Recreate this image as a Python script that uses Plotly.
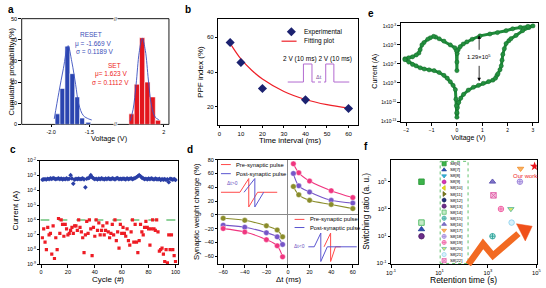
import plotly.graph_objects as go

W, H = 546, 288
FONT = "Liberation Sans, Arial, Helvetica, sans-serif"


def PX(x):
    return x / W


def PY(y):
    return 1 - y / H


# ---------------- Panel a : RESET / SET voltage histograms ----------------
reset_voltage = [-1.917, -1.853, -1.788, -1.724, -1.660, -1.596, -1.515]
reset_count = [5, 17, 37, 24, 13, 3, 1]
reset_bin = 0.064
reset_fit_v = [-1.96, -1.90, -1.84, -1.78, -1.73, -1.68, -1.64, -1.58, -1.51, -1.47]
reset_fit_p = [2.6, 15, 26.5, 37.3, 29.6, 18.8, 9.6, 4.2, 2.6, 2.1]
set_voltage = [1.476, 1.562, 1.648, 1.734, 1.820, 1.906]
set_count = [5, 19, 41, 20, 13, 2]
set_bin = 0.086
set_fit_v = [1.45, 1.50, 1.55, 1.60, 1.65, 1.70, 1.75, 1.80, 1.86, 1.92]
set_fit_p = [1.5, 7, 19, 34, 40.7, 35, 21, 9, 3.5, 2.2]

# ---------------- Panel b : PPF index ----------------
ppf_interval = [5, 10, 20, 40, 60]
ppf_index = [57, 45.5, 30.5, 24, 19]
ppf_fit_t = [5, 10, 15, 20, 30, 40, 50, 60]
ppf_fit_v = [56.5, 47.5, 41, 36, 28.8, 24.2, 21.2, 19.2]

# ---------------- Panel c : endurance ----------------
cycles = list(range(1, 101))
lrs_exp = [
    -3.28, -3.26, -3.25, -3.27, -3.22, -3.24, -3.20, -3.23, -3.18, -3.21,
    -3.25, -3.22, -3.20, -3.24, -3.21, -3.26, -3.23, -3.25, -3.20, -3.24,
    -3.22, -2.98, -3.20, -3.55, -3.28, -3.22, -3.25, -3.21, -3.24, -3.23,
    -3.20, -3.26, -3.80, -3.22, -3.18, -3.15, -2.98, -3.12, -3.20, -3.24,
    -3.22, -3.27, -3.21, -3.25, -3.19, -3.23, -3.26, -3.21, -3.24, -3.20,
    -3.23, -3.25, -3.19, -3.22, -3.26, -3.20, -3.18, -3.24, -3.22, -3.25,
    -3.21, -3.23, -3.26, -3.20, -3.24, -3.22, -3.19, -3.25, -3.21, -3.17,
    -3.12, -3.05, -2.98, -3.05, -3.15, -3.20, -3.24, -3.22, -3.26, -3.21,
    -3.25, -3.20, -3.23, -3.27, -3.21, -3.24, -3.26, -3.22, -3.30, -3.25,
    -3.28, -3.24, -3.30, -3.26, -3.45, -3.22, -3.25, -3.28, -3.24, -3.30]
hrs_exp = [
    -7.2, -6.6, -7.5, -8.0, -6.5, -7.0, -6.9, -8.3, -6.4, -8.6,
    -7.2, -8.0, -5.9, -6.9, -6.0, -6.3, -7.1, -6.3, -6.6, -7.0,
    -6.9, -6.7, -6.5, -6.9, -6.4, -6.4, -6.7, -6.0, -6.5, -6.8,
    -7.2, -8.2, -7.0, -6.1, -6.9, -6.0, -6.6, -8.4, -6.5, -7.1,
    -6.0, -6.7, -6.2, -7.0, -6.7, -6.4, -7.0, -6.7, -6.2, -6.8,
    -7.2, -6.9, -6.3, -7.0, -6.0, -7.4, -6.8, -7.9, -6.3, -6.9,
    -6.5, -6.9, -7.1, -6.6, -7.4, -7.7, -6.8, -6.0, -7.5, -6.3,
    -7.5, -8.2, -7.4, -6.3, -6.8, -7.0, -6.5, -6.1, -6.5, -6.6,
    -7.7, -6.6, -6.0, -6.6, -6.7, -6.0, -6.8, -8.1, -8.0, -7.9,
    -8.3, -8.8, -8.0, -8.9, -7.0, -8.0, -7.0, -8.0, -8.4, -8.8]
read_threshold = 1e-6
lrs_current = [10 ** e for e in lrs_exp]
hrs_current = [10 ** e for e in hrs_exp]

# ---------------- Panel d : STDP ----------------
dt_pos = [5, 10, 20, 40, 60]
pos_pink = [74, 61, 49, 35, 25]
pos_purple = [60, 42, 33, 21, 17]
pos_olive = [41, 29, 21, 15, 9]
dt_neg = [-60, -40, -20, -10, -5]
neg_olive = [-5, -8, -16, -22, -32]
neg_purple = [-15, -18, -26, -32, -43]
neg_pink = [-20, -25, -36, -45, -61]

# ---------------- Panel e : I-V loop ----------------
e_voltage = [0.0, 0.02, 0.07, 0.15, 0.26, 0.45, 0.65, 0.85, 1.04, 1.25, 1.42, 1.52, 1.58,
             1.62, 1.70, 1.75, 1.78, 1.81, 1.87, 1.94, 2.05, 2.13, 2.33, 2.59, 2.84, 3.0,
             2.8, 2.5, 2.2, 1.94, 1.6, 1.3, 0.91, 0.6, 0.39, 0.25, 0.13, 0.05, 0.01, 0.0, 0.0,
             -0.02, -0.08, -0.26, -0.51, -0.7, -0.84, -0.92, -1.05, -1.15, -1.3, -1.38, -1.45,
             -1.5, -1.6, -1.75, -1.9, -2.05,
             -2.05, -1.9, -1.75, -1.61, -1.45, -1.29, -1.1, -0.9, -0.7, -0.51, -0.38, -0.26,
             -0.15, -0.06, -0.04, -0.02, 0.0, 0.0]
e_log_current = [-12.2, -11.6, -11.05, -10.6, -10.2, -9.75, -9.45, -9.25, -9.04, -8.85, -8.7, -8.5, -8.2,
                 -8.03, -7.6, -7.2, -6.6, -6.0, -5.4, -4.85, -4.55, -4.34, -4.0, -3.5, -3.17, -3.0,
                 -3.05, -3.15, -3.3, -3.5, -3.7, -3.85, -4.05, -4.4, -4.68, -4.9, -5.18, -5.5, -5.9, -6.8, -7.7,
                 -5.6, -5.3, -5.0, -4.6, -4.35, -4.17, -4.1, -4.25, -4.4, -4.75, -5.0, -5.5,
                 -5.85, -6.05, -6.25, -6.35, -6.45,
                 -6.55, -6.8, -7.05, -7.2, -7.4, -7.53, -7.62, -7.7, -7.9, -8.2, -8.5, -8.87,
                 -9.25, -9.7, -10.7, -11.4, -12.1, -12.6]
e_current = [10 ** e for e in e_log_current]

# ---------------- Panel f : benchmark ----------------
f_names = ["S8[6]", "S8[7]", "S8[8]", "S8[9]", "S8[10]", "S8[11]", "S8[12]", "S8[13]", "S8[14]",
           "S8[15]", "S8[16]", "S8[17]", "S8[18]", "S8[19]", "S8[20]", "S8[21]", "S8[22]"]
f_symbols = ["square", "triangle-up", "triangle-down", "hexagon", "triangle-left", "triangle-right",
             "hexagon", "circle", "square", "circle-cross", "triangle-up", "triangle-down-dot",
             "circle-cross", "circle-cross", "triangle-down", "circle", "square-x"]
f_fill = ["#3cb44a", "#2d4fb5", "#33b8dc", "#d633b5", "#ece21e", "#7f7f1e", "#1f2f7a", "#6b2d8a",
          "#c5ebc8", "#b8e6e2", "#8075c8", "#fbc37a", "#e2d8f6", "#fbd0e4", "#d8e86a", "#d8f1fa", "#f6c2e0"]
f_edge = ["#2f9a3c", "#243f95", "#2290b8", "#b0208f", "#c8be10", "#5f5f10", "#121d55", "#4f1d68",
          "#4cb860", "#2ea39a", "#5a4fb0", "#f08c2a", "#9b82d8", "#ef5ba0", "#5ab8a0", "#8fd3ee", "#e060a8"]
f_retention = [1.8, 1.8, None, None, None, None, None, 1.8, 1.8, 1550, 1550, 22400, 21000,
               3470, 8900, 9550, 1700]
f_ratio = [1e5, 32, None, None, None, None, None, 10, 100, 10, 1e5, 9.1e5, 1e5, 1e3, 1e3, 100, 1e4]
our_retention = [85000]
our_ratio = [1.35e6]

fig = go.Figure()

# ---- panel a traces
fig.add_trace(go.Bar(x=reset_voltage, y=reset_count, width=reset_bin,
                     marker=dict(color="#2b45b0", line=dict(color="white", width=0.6)),
                     xaxis="x", yaxis="y"))
fig.add_trace(go.Scatter(x=reset_fit_v, y=reset_fit_p, mode="lines",
                         line=dict(color="#3a50c0", width=0.9, shape="spline"), xaxis="x", yaxis="y"))
fig.add_trace(go.Bar(x=set_voltage, y=set_count, width=set_bin,
                     marker=dict(color="#e3161e", line=dict(color="white", width=0.6)),
                     xaxis="x2", yaxis="y"))
fig.add_trace(go.Scatter(x=set_fit_v, y=set_fit_p, mode="lines",
                         line=dict(color="#3a50c0", width=0.9, shape="spline"), xaxis="x2", yaxis="y"))

# ---- panel b traces
fig.add_trace(go.Scatter(x=ppf_fit_t, y=ppf_fit_v, mode="lines",
                         line=dict(color="#ee2028", width=1.2, shape="spline"), xaxis="x3", yaxis="y3"))
fig.add_trace(go.Scatter(x=ppf_interval, y=ppf_index, mode="markers",
                         marker=dict(symbol="diamond", size=7, color="#1c2270"), xaxis="x3", yaxis="y3"))

# ---- panel c traces
fig.add_trace(go.Scatter(x=[-0.5, 101.7], y=[read_threshold, read_threshold], mode="lines",
                         line=dict(color="#21a336", width=1.1, dash="dash"), xaxis="x4", yaxis="y4"))
fig.add_trace(go.Scatter(x=cycles, y=lrs_current, mode="markers",
                         marker=dict(symbol="diamond", size=3.6, color="#2a3fa6"), xaxis="x4", yaxis="y4"))
fig.add_trace(go.Scatter(x=cycles, y=hrs_current, mode="markers",
                         marker=dict(symbol="square", size=3.2, color="#ee1c24"), xaxis="x4", yaxis="y4"))

# ---- panel d traces
for xs, ys, col in [(dt_pos, pos_pink, "#f0357f"), (dt_pos, pos_purple, "#7655c8"),
                    (dt_pos, pos_olive, "#8a8c2a"), (dt_neg, neg_olive, "#8a8c2a"),
                    (dt_neg, neg_purple, "#7655c8"), (dt_neg, neg_pink, "#f0357f")]:
    fig.add_trace(go.Scatter(x=xs, y=ys, mode="lines+markers",
                             line=dict(color=col, width=1.1, shape="spline"),
                             marker=dict(size=5.5, color=col, line=dict(color="white", width=0.4)),
                             xaxis="x5", yaxis="y5"))

# ---- panel e trace
fig.add_trace(go.Scatter(x=e_voltage, y=e_current, mode="lines+markers",
                         line=dict(color="#1f8a3a", width=3),
                         marker=dict(size=4.2, color="#23903e", line=dict(color="#146b2a", width=0.5)),
                         xaxis="x6", yaxis="y6"))

# ---- panel f traces
for i, nm in enumerate(f_names):
    if f_retention[i] is None:
        continue
    fig.add_trace(go.Scatter(x=[f_retention[i]], y=[f_ratio[i]], mode="markers",
                             marker=dict(symbol=f_symbols[i], size=5.5, color=f_fill[i],
                                         line=dict(color=f_edge[i], width=0.9)),
                             xaxis="x7", yaxis="y7"))
fig.add_trace(go.Scatter(x=our_retention, y=our_ratio, mode="markers",
                         marker=dict(symbol="star", size=7, color="#e8141c"), xaxis="x7", yaxis="y7"))


# ---- decorations on a pixel overlay (legend keys, inset schematics)
def deco_line(xs, ys, color, width=1.0, dash="solid"):
    fig.add_trace(go.Scatter(x=xs, y=ys, mode="lines", line=dict(color=color, width=width, dash=dash),
                             xaxis="x8", yaxis="y8"))


# panel b legend keys
fig.add_trace(go.Scatter(x=[291.7], y=[29.3], mode="markers",
                         marker=dict(symbol="diamond", size=7, color="#1c2270"), xaxis="x8", yaxis="y8"))
deco_line([281.7, 297], [39, 39], "#ee2028", 1.2)
# panel b pulse inset
deco_line([288, 304, 304, 312.7, 312.7], [80.7, 80.7, 62.3, 62.3, 80.7], "#b36ad0", 1.0)
deco_line([312.7, 326.7], [80.7, 80.7], "#b36ad0", 1.0, "dot")
deco_line([326.7, 326.7, 335, 335, 350.7], [80.7, 62.3, 62.3, 80.7, 80.7], "#b36ad0", 1.0)

# panel d legend keys + pulse schematics
deco_line([220, 230], [165, 165], "#ff4a4a", 1.0)
deco_line([220, 230], [174.3, 174.3], "#5a55d0", 1.0)
deco_line([220, 239.3, 248.3, 248.3, 257.3, 277.3], [193.3, 193.3, 179.3, 208.3, 193.3, 193.3], "#ff4a4a", 1.0)
deco_line([243.5, 254.5, 254.5, 263.5], [193.3, 179.3, 208.3, 193.3], "#5a55d0", 1.0)
deco_line([295, 305], [221, 221], "#ff4a4a", 1.0)
deco_line([295, 305], [229.3, 229.3], "#5a55d0", 1.0)
deco_line([325, 331.7, 331.7, 336.7, 342], [249, 235, 264, 249, 249], "#ff4a4a", 1.0)
deco_line([309, 315, 321.7, 321.7, 328.3, 358.3], [249, 249, 235, 264, 249, 249], "#5a55d0", 1.0)

# panel f legend keys
for i, nm in enumerate(f_names):
    fig.add_trace(go.Scatter(x=[447.3], y=[164.2 + 6.18 * i], mode="markers",
                             marker=dict(symbol=f_symbols[i], size=4.2, color=f_fill[i],
                                         line=dict(color=f_edge[i], width=0.7)),
                             xaxis="x8", yaxis="y8"))
# panel f orange trend arrow
deco_line([472, 487, 497, 523], [267, 246, 258, 235.5], "#f26a22", 6.5)
fig.add_trace(go.Scatter(x=[537, 521, 530, 537], y=[228, 225.5, 243, 228], mode="lines", fill="toself",
                         fillcolor="#f0501a", line=dict(color="#f0501a", width=0.5),
                         xaxis="x8", yaxis="y8"))


# ---- axes
def ax(domain, rng, anchor, **kw):
    d = dict(domain=domain, range=rng, anchor=anchor, showline=True, linecolor="black", linewidth=0.9,
             mirror=True, ticks="outside", ticklen=2.5, tickwidth=0.7, tickcolor="black",
             showgrid=False, zeroline=False, fixedrange=True,
             tickfont=dict(size=5.5, color="black", family=FONT))
    d.update(kw)
    return d


def sup_labels(exps, prefix="10"):
    return [f"{prefix}<sup>{e}</sup>" for e in exps]


ya = [PY(124), PY(16)]
layout_axes = dict(
    xaxis=ax([PX(17), PX(113)], [-2.385, -1.154], "y", showline=False, tickvals=[-2.0, -1.5],
             ticktext=["-2.0", "-1.5"], ticklen=2),
    xaxis2=ax([PX(113), PX(167)], [1.221, 2.085], "y", showline=False, tickvals=[2], ticktext=["2"], ticklen=2),
    yaxis=ax(ya, [0, 50], "x", showline=False, dtick=10),
    xaxis3=ax([PX(217.3), PX(360)], [-0.5, 64.6], "y3", dtick=10, ticklen=2,
              tickfont=dict(size=6, family=FONT, color="black")),
    yaxis3=ax([PY(125), PY(16)], [9.3, 70.7], "x3", tickvals=[20, 40, 60],
              tickfont=dict(size=6, family=FONT, color="black")),
    xaxis4=ax([PX(36), PX(176)], [-0.5, 101.7], "y4", dtick=20),
    yaxis4=ax([PY(267), PY(161)], [-9, -2], "x4", type="log",
              tickvals=[10 ** -k for k in range(2, 10)], ticktext=sup_labels([-k for k in range(2, 10)]),
              tickfont=dict(size=5, family=FONT, color="black")),
    xaxis5=ax([PX(217.3), PX(360)], [-64.5, 65.2], "y5", tickvals=[-60, -40, -20, 0, 20, 40, 60],
              zeroline=True, zerolinecolor="#8a8a8a", zerolinewidth=1),
    yaxis5=ax([PY(267), PY(160)], [-72, 80], "x5", dtick=20,
              zeroline=True, zerolinecolor="#8a8a8a", zerolinewidth=1),
    xaxis6=ax([PX(403), PX(543)], [-2.22, 3.2], "y6", dtick=1, tickfont=dict(size=5, family=FONT, color="black")),
    yaxis6=ax([PY(122), PY(20)], [-13.15, -2.65], "x6", type="log",
              tickvals=[10 ** -k for k in (3, 5, 7, 9, 11, 13)],
              ticktext=sup_labels([-k for k in (3, 5, 7, 9, 11, 13)], "1x10"),
              tickfont=dict(size=4.8, family=FONT, color="black")),
    xaxis7=ax([PX(393.3), PX(541.7)], [-1, 5.02], "y7", type="log",
              tickvals=[0.1, 10, 1000, 1e5], ticktext=sup_labels([-1, 1, 3, 5]),
              tickfont=dict(size=5.8, family=FONT, color="black")),
    yaxis7=ax([PY(266.7), PY(160.7)], [-1.05, 6.57], "x7", type="log",
              tickvals=[0.1, 10, 1000, 1e5], ticktext=sup_labels([-1, 1, 3, 5]),
              tickfont=dict(size=5.8, family=FONT, color="black")),
    xaxis8=dict(domain=[0, 1], range=[0, W], anchor="y8", visible=False, fixedrange=True),
    yaxis8=dict(domain=[0, 1], range=[H, 0], anchor="x8", visible=False, fixedrange=True),
)

anns = []


def T(x, y, text, size=6.5, color="black", angle=0, xanchor="center", bold=False, **kw):
    anns.append(dict(x=PX(x), y=PY(y), xref="paper", yref="paper", text=f"<b>{text}</b>" if bold else text,
                     showarrow=False, textangle=angle, xanchor=xanchor, yanchor="middle",
                     font=dict(size=size, color=color, family=FONT), **kw))


# panel letters
for lx, ly, lt in [(6, 7, "a"), (186, 7, "b"), (373, 11, "e"), (8, 150, "c"), (188, 150, "d"), (368, 147, "f")]:
    T(lx, ly, lt, 10, bold=True)

# panel a texts
T(7, 70, "Cumulative probability (%)", 7.5, angle=-90)
T(106, 138, "Voltage (V)", 7.3)
blue_t = "#3a4db8"
T(88, 32.3, "RESET", 6.5, blue_t)
T(90, 41.7, "μ = -1.669 V", 6.5, blue_t)
T(92, 49.3, "σ = 0.1189 V", 6.5, blue_t)
red_t = "#ee1c24"
T(112, 64, "SET", 6.5, red_t)
T(108, 72.7, "μ= 1.623 V", 6.5, red_t)
T(107, 81, "σ = 0.1112 V", 6.5, red_t)
T(113, 16, "//", 5, bgcolor="white", borderpad=0)
T(113, 124, "//", 5, bgcolor="white", borderpad=0)

# panel b texts
T(199, 70, "PPF index (%)", 8, angle=-90)
T(290, 140.5, "Time interval (ms)", 7.8)
T(303, 29.3, "Experimental", 6.5, xanchor="left")
T(303, 39, "Fitting plot", 6.5, xanchor="left")
T(318, 57.3, "2 V (10 ms) 2 V (10 ms)", 6.5)
T(319.7, 75.5, "Δt", 5.5, "#7a4f9a")

# panel c texts
T(11, 212, "Current (A)", 8, angle=-90)
T(105, 282, "Cycle (#)", 8)

# panel d texts
T(195, 213, "Synaptic weight change (%)", 7.8, angle=-90)
T(289, 282, "Δt (ms)", 7.8)
T(233.3, 165, "Pre-synaptic pulse", 5.8, xanchor="left")
T(233.3, 174.3, "Post-synaptic pulse", 5.8, xanchor="left")
T(308.3, 221, "Pre-synaptic pulse", 5.8, xanchor="left")
T(308.3, 229.3, "Post-synaptic pulse", 5.8, xanchor="left")
T(232, 183.5, "Δt>0", 5, "#6a4fc0")
T(300, 248.5, "Δt<0", 5, "#6a4fc0")

# panel e texts
T(376, 70, "Current (A)", 7, angle=-90)
T(472, 137.5, "Voltage (V)", 7)
T(483, 55, "1.29×10<sup>5</sup>", 5.8)
anns.append(dict(x=PX(483), y=PY(33), xref="paper", yref="paper", ax=0, ay=16, showarrow=True,
                 arrowhead=2, arrowsize=0.9, arrowwidth=0.8, arrowcolor="black", text=""))
anns.append(dict(x=PX(483), y=PY(80), xref="paper", yref="paper", ax=0, ay=-17, showarrow=True,
                 arrowhead=2, arrowsize=0.9, arrowwidth=0.8, arrowcolor="black", text=""))

# panel f texts
T(368, 213, "Switching ratio (a. u.)", 8.2, angle=-90)
T(467, 282.5, "Retention time (s)", 8.5)
T(530, 176.7, "Our work", 6, "#ee1c24")
for i, nm in enumerate(f_names):
    T(450.8, 164.2 + 6.18 * i, nm, 4.3, xanchor="left")

shapes = [
    dict(type="rect", xref="paper", yref="paper", x0=PX(17), x1=PX(167), y0=PY(124), y1=PY(16),
         line=dict(color="black", width=0.9), layer="below"),
    dict(type="rect", xref="paper", yref="paper", x0=PX(443.3), x1=PX(471.7), y0=PY(266), y1=PY(161.7),
         line=dict(color="#3cb44a", width=0.8, dash="dot"), fillcolor="white", layer="below"),
]

fig.update_layout(
    width=W, height=H, margin=dict(l=0, r=0, t=0, b=0), autosize=False,
    paper_bgcolor="white", plot_bgcolor="rgba(0,0,0,0)",
    showlegend=False, barmode="overlay", hovermode=False,
    font=dict(family=FONT, color="black"),
    annotations=anns, shapes=shapes, **layout_axes,
)

fig.write_html("out.html")
